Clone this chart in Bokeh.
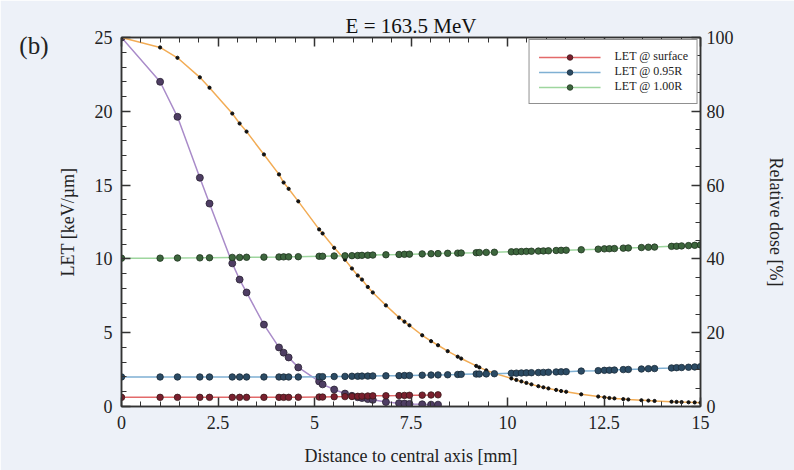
from bokeh.plotting import figure
from bokeh.models import (Range1d, LinearAxis, Legend, LegendItem, SingleIntervalTicker,
                          FixedTicker, CustomJSTickFormatter)
from bokeh.embed import file_html
from bokeh.resources import INLINE

# ---------------- data ----------------
x_grid = [0.0, 1.0, 1.45, 2.03, 2.28, 2.87, 3.06, 3.24, 3.69, 4.08, 4.2, 4.33, 4.58,
          5.12, 5.21, 5.51, 5.79, 5.97, 6.12, 6.23, 6.38, 6.51, 6.85, 7.19, 7.33,
          7.46, 7.79, 8.02, 8.2, 8.45, 8.71, 8.8, 9.19, 9.27, 9.45, 9.66, 10.1,
          10.23, 10.36, 10.49, 10.62, 10.8, 10.93, 11.06, 11.26, 11.39, 11.52,
          11.91, 12.35, 12.51, 12.64, 12.77, 13.0, 13.13, 13.47, 13.65, 13.81,
          14.25, 14.38, 14.51, 14.69, 14.85, 15.0]

x_short = x_grid[:29]  # up to 8.2 mm

let_surface = [0.62, 0.62, 0.62, 0.62, 0.62, 0.62, 0.62, 0.62, 0.62, 0.62, 0.62, 0.62, 0.63,
               0.64, 0.64, 0.66, 0.67, 0.68, 0.69, 0.70, 0.71, 0.72, 0.73, 0.74, 0.75,
               0.76, 0.77, 0.78, 0.79]

let_095R = [2.0, 2.0, 2.0, 2.0, 2.0, 2.0, 2.0, 2.0, 2.0, 2.0, 2.0, 2.0, 2.0,
            2.02, 2.02, 2.03, 2.04, 2.05, 2.05, 2.06, 2.06, 2.07, 2.08, 2.09, 2.1,
            2.1, 2.12, 2.13, 2.14, 2.15, 2.17, 2.18, 2.2, 2.2, 2.21, 2.22, 2.25,
            2.26, 2.27, 2.28, 2.29, 2.3, 2.31, 2.32, 2.34, 2.35, 2.36,
            2.4, 2.43, 2.45, 2.46, 2.47, 2.5, 2.51, 2.54, 2.56, 2.57,
            2.61, 2.63, 2.64, 2.66, 2.68, 2.7]

let_100R = [10.05, 10.05, 10.06, 10.07, 10.08, 10.1, 10.1, 10.11, 10.12, 10.13, 10.14, 10.14, 10.15,
            10.18, 10.18, 10.2, 10.21, 10.22, 10.23, 10.24, 10.25, 10.26, 10.28, 10.3, 10.31,
            10.32, 10.34, 10.35, 10.36, 10.38, 10.39, 10.4, 10.42, 10.43, 10.44, 10.45, 10.48,
            10.49, 10.5, 10.51, 10.52, 10.53, 10.54, 10.55, 10.57, 10.58, 10.59,
            10.62, 10.66, 10.68, 10.69, 10.7, 10.73, 10.74, 10.77, 10.79, 10.8,
            10.85, 10.86, 10.88, 10.9, 10.92, 10.95]

dose_a = [100, 88, 78.5, 62, 55, 38.8, 34.4, 30.9, 22.2, 16, 14.6, 13.3, 10.6,
          6.8, 6.0, 4.6, 3.5, 2.9, 2.5, 2.3, 2.0, 1.8, 1.2, 0.9, 0.8,
          0.7, 0.6, 0.5, 0.5]

dose_b = [100, 97.3, 94.5, 89.2, 86.4, 79.4, 76.7, 74.5, 68.3, 62.9, 60.7, 59, 55.6,
          48, 46.9, 43, 39.8, 37.4, 35.5, 34.4, 32.4, 30.9, 27.4, 24.1, 23,
          22, 19.3, 17.7, 16.6, 15.0, 13.5, 13.0, 11.0, 10.6, 9.8, 9.0, 7.6,
          7.2, 6.8, 6.4, 6.0, 5.5, 5.2, 4.9, 4.5, 4.2, 4.0,
          3.3, 2.7, 2.5, 2.3, 2.2, 2.0, 1.9, 1.7, 1.6, 1.5,
          1.3, 1.25, 1.2, 1.15, 1.1, 1.05]

x_tick_vals = [0, 2.5, 5, 7.5, 10, 12.5, 15]
x_tick_labels = ["0", "2.5", "5", "7.5", "10", "12.5", "15"]

series_labels = ["LET @ surface", "LET @ 0.95R", "LET @ 1.00R"]
panel_tag = "(b)"

# ---------------- styling ----------------
FONT = "Liberation Serif"
BG = "#edf1f8"
AXC = "#333333"

p = figure(width=794, height=470, x_range=Range1d(0, 15), y_range=Range1d(0, 25),
           output_backend="svg", toolbar_location=None,
           min_border_left=121, min_border_right=94, min_border_top=37, min_border_bottom=64)
p.extra_y_ranges = {"dose": Range1d(0, 100)}

p.background_fill_color = "white"
p.border_fill_color = BG
p.outline_line_color = AXC
p.outline_line_width = 1.5
p.grid.visible = False

p.title.text = "E = 163.5 MeV"
p.title.align = "center"
p.title.text_font = FONT
p.title.text_font_size = "21px"
p.title.text_font_style = "normal"
p.title.text_color = "#111111"
p.title.standoff = 0


def style_axis(ax):
    ax.axis_line_color = AXC
    ax.axis_line_width = 1.5
    ax.major_tick_in = 9
    ax.major_tick_out = 0
    ax.minor_tick_in = 5
    ax.minor_tick_out = 0
    ax.major_tick_line_color = AXC
    ax.minor_tick_line_color = AXC
    ax.major_tick_line_width = 1.5
    ax.minor_tick_line_width = 1
    ax.major_label_text_font = FONT
    ax.major_label_text_font_size = "18px"
    ax.major_label_text_color = "#222222"
    ax.axis_label_text_font = FONT
    ax.axis_label_text_font_size = "18px"
    ax.axis_label_text_font_style = "normal"
    ax.axis_label_text_color = "#222222"


xa = p.xaxis[0]
xa.ticker = SingleIntervalTicker(interval=2.5, num_minor_ticks=5)
xa.major_label_overrides = dict(zip(x_tick_vals, x_tick_labels))
xa.axis_label = "Distance to central axis [mm]"
style_axis(xa)
xa.major_label_standoff = 9
xa.axis_label_standoff = 14

ya = p.yaxis[0]
ya.ticker = SingleIntervalTicker(interval=5, num_minor_ticks=5)
ya.axis_label = "LET [keV/µm]"
style_axis(ya)
ya.major_label_standoff = 9
ya.axis_label_standoff = 14

# panel tag "(b)": an extra, invisible left axis whose only content is its label;
# a tall second (blank) line lifts the tag to the top of the panel
ba = LinearAxis(ticker=FixedTicker(ticks=[]),
                formatter=CustomJSTickFormatter(code="return ''"),
                axis_label=panel_tag + "\n ", axis_label_orientation="horizontal")
style_axis(ba)
ba.axis_line_color = None
ba.major_tick_line_color = None
ba.minor_tick_line_color = None
ba.major_tick_in = 0
ba.minor_tick_in = 0
ba.major_label_standoff = 0
ba.axis_label_standoff = 6
ba.axis_label_text_font_size = "25px"
ba.axis_label_text_line_height = 13.1
p.add_layout(ba, "left")

ra = LinearAxis(y_range_name="dose", ticker=SingleIntervalTicker(interval=20, num_minor_ticks=4),
                axis_label="Relative dose [%]")
style_axis(ra)
ra.major_label_standoff = 6
ra.axis_label_standoff = 29
p.add_layout(ra, "right")

ta = LinearAxis(ticker=SingleIntervalTicker(interval=2.5, num_minor_ticks=5),
                formatter=CustomJSTickFormatter(code="return ''"))
style_axis(ta)
ta.major_label_standoff = 0
p.add_layout(ta, "above")

# ---------------- glyphs ----------------
p.line(x_short, dose_a, y_range_name="dose", line_color="#a98bc9", line_width=1.5)
p.scatter(x_short, dose_a, y_range_name="dose", size=7, fill_color="#4e3d63",
          line_color="#2a2233", line_width=0.8)

p.line(x_grid, dose_b, y_range_name="dose", line_color="#f2ac55", line_width=1.5)
p.scatter(x_grid, dose_b, y_range_name="dose", size=3.2, fill_color="#111111",
          line_color="#111111")

r1l = p.line(x_short, let_surface, line_color="#e36a6a", line_width=1.5)
r1p = p.scatter(x_short, let_surface, size=6.5, fill_color="#7a1f2e", line_color="#3a1a1a", line_width=0.8)
r2l = p.line(x_grid, let_095R, line_color="#7fb0d3", line_width=1.5)
r2p = p.scatter(x_grid, let_095R, size=6.5, fill_color="#2b4b64", line_color="#1b2b38", line_width=0.8)
r3l = p.line(x_grid, let_100R, line_color="#9ed69e", line_width=1.5)
r3p = p.scatter(x_grid, let_100R, size=6.5, fill_color="#3d663d", line_color="#1f331f", line_width=0.8)

legend = Legend(items=[LegendItem(label=series_labels[0], renderers=[r1l, r1p]),
                       LegendItem(label=series_labels[1], renderers=[r2l, r2p]),
                       LegendItem(label=series_labels[2], renderers=[r3l, r3p])],
                location="top_right")
legend.border_line_color = "#222222"
legend.border_line_width = 1.2
legend.background_fill_color = "white"
legend.background_fill_alpha = 1
legend.label_text_font = FONT
legend.label_text_font_size = "12px"
legend.label_text_color = "#222222"
legend.glyph_width = 62
legend.glyph_height = 14
legend.label_height = 14
legend.spacing = 0
legend.padding = 9
legend.margin = 2
legend.label_standoff = 14
p.add_layout(legend)

open("out.html", "w").write(file_html(p, INLINE))
